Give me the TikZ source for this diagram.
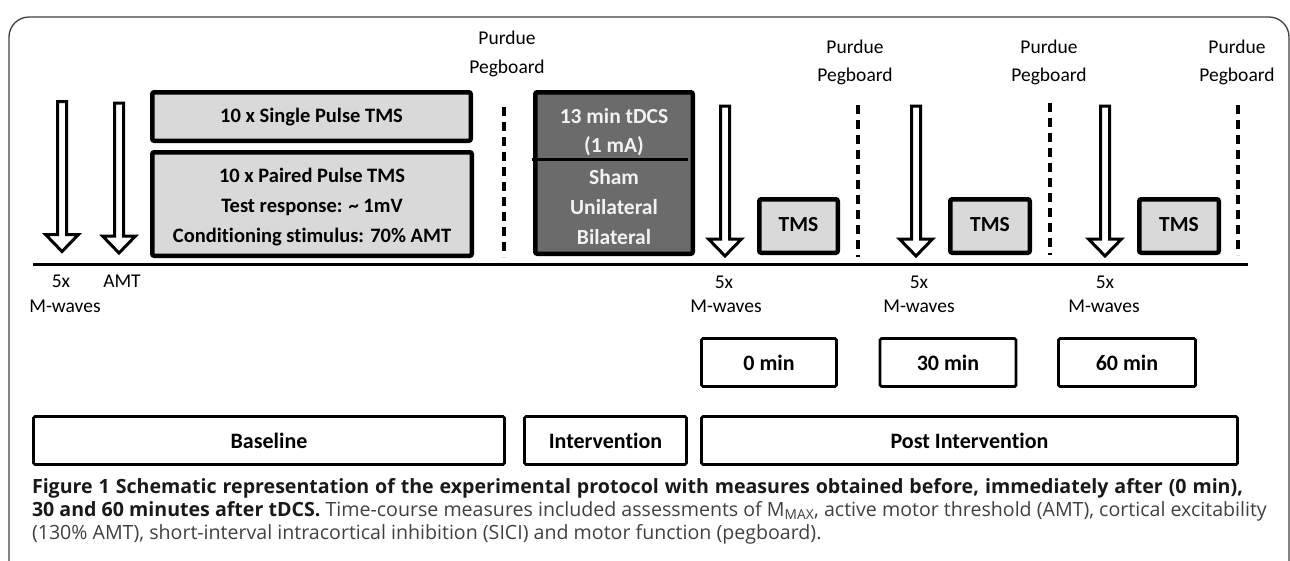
\documentclass[tikz,border=0pt]{standalone}
\usepackage{fontspec}
\setmainfont{Carlito}[Ligatures=NoCommon]
\newfontfamily\capfont{Open Sans}
\definecolor{lgray}{HTML}{D9D9D9}
\definecolor{dgray}{HTML}{6B6B6B}
\definecolor{captxt}{HTML}{404040}
\begin{document}
\begin{tikzpicture}[x=1pt,y=-1pt,
  every node/.style={inner sep=0pt, outer sep=0pt},
  thickbox/.style={draw=black, line width=4.5pt, fill=lgray, rounded corners=2pt},
  darkbox/.style={draw=black, line width=4.5pt, fill=dgray, rounded corners=2pt},
  thinbox/.style={draw=black, line width=2.8pt, fill=white, rounded corners=1.5pt, font=\fontsize{22}{26}\selectfont\bfseries},
  toptxt/.style={font=\fontsize{20.5}{24}\selectfont\bfseries},
  whtxt/.style={font=\fontsize{21.5}{24}\selectfont\bfseries, text=black!5},
  tmstxt/.style={font=\fontsize{21.5}{24}\selectfont\bfseries},
  lbl/.style={font=\fontsize{19.5}{23}\selectfont},
  pegdash/.style={line width=3.5pt, dash pattern=on 9pt off 6pt},
  timeline/.style={line width=3pt},
  capline/.style={anchor=west, font=\capfont\fontsize{19.6}{23}\selectfont},
  hollow/.pic={\draw[line width=3pt, fill=white, miter limit=10] (-4.5,0) -- (-4.5,133) -- (-16.5,133) -- (0,150) -- (16.5,133) -- (4.5,133) -- (4.5,0) -- cycle;}
]
\useasboundingbox (0,0) rectangle (1290,560);
% frame
\draw[line width=1.3pt, black!75, rounded corners=20pt] (9,565) -- (9,17) -- (1289,17) -- (1289,565);

% timeline
\coordinate (tl0) at (33,264);
\coordinate (tl1) at (1248,264);
\draw[timeline] (tl0) -- (tl1);

% hollow arrows
\pic at (62,101.5) {hollow};
\pic at (119,103) {hollow};
\pic at (725,106) {hollow};
\pic at (916,106) {hollow};
\pic at (1105,106) {hollow};

% dashed Purdue lines
\coordinate (d0a) at (504,107); \coordinate (d0b) at (504,257);
\coordinate (d1a) at (858,105); \coordinate (d1b) at (858,257);
\coordinate (d2a) at (1050,103); \coordinate (d2b) at (1050,255);
\coordinate (d3a) at (1238,105); \coordinate (d3b) at (1238,255);
\draw[pegdash] (d0a) -- (d0b);
\draw[pegdash] (d1a) -- (d1b);
\draw[pegdash] (d2a) -- (d2b);
\draw[pegdash] (d3a) -- (d3b);

% Purdue labels
\node[lbl] (p0a) at (507,38) {Purdue};
\node[lbl] (p0b) at (507,68) {Pegboard};
\node[lbl] (p1a) at (855,47) {Purdue};
\node[lbl] (p1b) at (855,76) {Pegboard};
\node[lbl] (p2a) at (1049,47) {Purdue};
\node[lbl] (p2b) at (1049,76) {Pegboard};
\node[lbl] (p3a) at (1237,47) {Purdue};
\node[lbl] (p3b) at (1237,76) {Pegboard};

% baseline TMS boxes
\node[thickbox, minimum width=318.5pt, minimum height=48.5pt] (single) at (311.5,116.5) {};
\node[toptxt] (singletxt) at (311.5,117) {10 x Single Pulse TMS};
\node[thickbox, minimum width=319.5pt, minimum height=103.5pt] (paired) at (312,204) {};
\node[toptxt] (pairedA) at (312,175) {10 x Paired Pulse TMS};
\node[toptxt] (pairedB) at (312,207) {Test response: \char"007E{} 1mV};
\node[toptxt] (pairedC) at (312,237) {Conditioning stimulus: 70\% AMT};

% tDCS box
\node[darkbox, minimum width=157.5pt, minimum height=161.5pt] (tdcs) at (614,173) {};
\coordinate (divA) at (532,159);
\coordinate (divB) at (688,159);
\draw[line width=3pt] (divA) -- (divB);
\node[whtxt] (tdA) at (614,116) {13 min tDCS};
\node[whtxt] (tdB) at (614,146) {(1 mA)};
\node[whtxt] (tdC) at (614,177) {Sham};
\node[whtxt] (tdD) at (614,207) {Unilateral};
\node[whtxt] (tdE) at (614,237) {Bilateral};

% post TMS boxes
\node[thickbox, minimum width=78.5pt, minimum height=53.5pt] (tms1) at (798.5,226) {};
\node[tmstxt] (tms1t) at (798.5,225) {TMS};
\node[thickbox, minimum width=79.5pt, minimum height=53.5pt] (tms2) at (990,226) {};
\node[tmstxt] (tms2t) at (990,225) {TMS};
\node[thickbox, minimum width=79.5pt, minimum height=53.5pt] (tms3) at (1179,226) {};
\node[tmstxt] (tms3t) at (1179,225) {TMS};

% labels under timeline
\node[lbl] (l5x0) at (61,281) {5x};
\node[lbl] (lamt) at (122,281) {AMT};
\node[lbl] (lmw0) at (65,306) {M-waves};
\node[lbl] (l5x1) at (724,282) {5x};
\node[lbl] (lmw1) at (726,306) {M-waves};
\node[lbl] (l5x2) at (919,282) {5x};
\node[lbl] (lmw2) at (919,306) {M-waves};
\node[lbl] (l5x3) at (1105,282) {5x};
\node[lbl] (lmw3) at (1104,306) {M-waves};

% time boxes
\node[thinbox, minimum width=135pt, minimum height=48pt] (t0) at (769,362.5) {0 min};
\node[thinbox, minimum width=136pt, minimum height=48pt] (t30) at (948,362.5) {30 min};
\node[thinbox, minimum width=137pt, minimum height=48pt] (t60) at (1127,362.5) {60 min};

% phase boxes
\node[thinbox, minimum width=471pt, minimum height=48pt] (base) at (269,440.5) {Baseline};
\node[thinbox, minimum width=162pt, minimum height=48pt] (interv) at (605.5,440.5) {Intervention};
\node[thinbox, minimum width=536pt, minimum height=48pt] (post) at (969.5,440.5) {Post Intervention};

% caption
\node[capline] (cap1) at (32,488) {\makebox[1211pt][s]{\bfseries\color{black!90}Figure 1 Schematic representation of the experimental protocol with measures obtained before, immediately after (0 min),}};
\node[capline] (cap2) at (32,511) {{\bfseries\color{black!90}30 and 60 minutes after tDCS.} {\color{captxt}Time-course measures included assessments of M\textsubscript{MAX}, active motor threshold (AMT), cortical excitability}};
\node[capline, text=captxt] (cap3) at (32,534) {(130\% AMT), short-interval intracortical inhibition (SICI) and motor function (pegboard).};
\end{tikzpicture}
\end{document}
